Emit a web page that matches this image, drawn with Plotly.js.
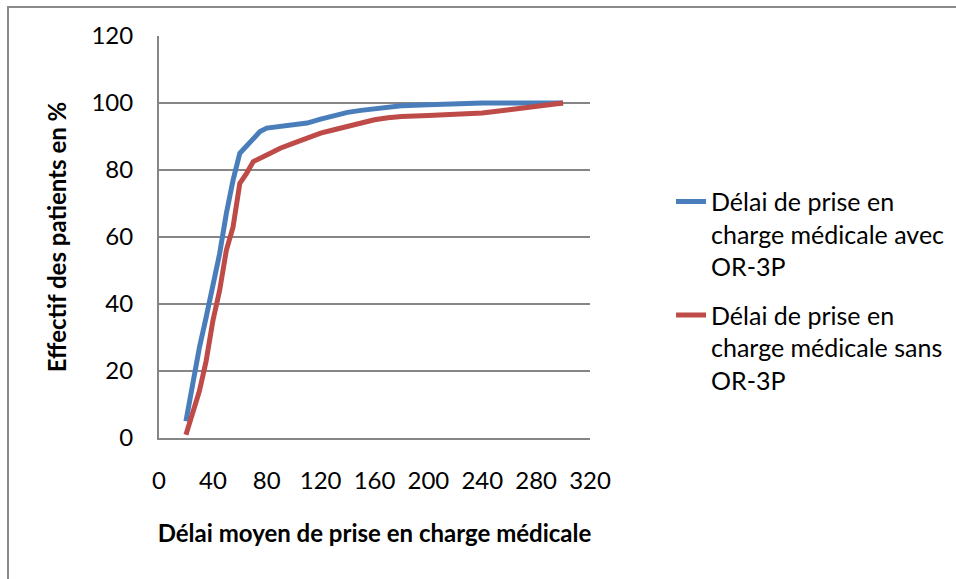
<!DOCTYPE html>
<html>
<head>
<meta charset="utf-8">
<script src="https://cdn.plot.ly/plotly-3.0.1.min.js"></script>
<style>
  html, body { margin: 0; padding: 0; background: #fff; }
  #wrap { position: relative; width: 956px; height: 579px; }
  #chart { width: 956px; height: 579px; }
  #frame {
    position: absolute; left: 7px; top: 6px; right: 0; bottom: 0;
    border-left: 2px solid #8a8a8a; border-top: 2px solid #8a8a8a;
    pointer-events: none;
  }
</style>
</head>
<body>
<div id="wrap">
  <div id="chart"></div>
  <div id="frame"></div>
</div>
<script>
// Délai (minutes) et effectif cumulé des patients (%)
const delaiAvec = [20, 25, 30, 35, 40, 45, 50, 55, 60, 65, 70, 75, 80, 90, 100, 110, 120, 130, 140, 150, 160, 170, 180, 200, 220, 240, 260, 280, 300];
const effectifAvec = [5, 17, 27, 36, 45, 55, 67, 77, 85, 87, 89.5, 91.5, 92.5, 93, 93.5, 94, 95.2, 96.3, 97.2, 97.8, 98.3, 98.8, 99.2, 99.5, 99.8, 100, 100, 100, 100];

const delaiSans = [20, 25, 30, 35, 40, 45, 50, 55, 60, 65, 70, 80, 90, 100, 110, 120, 130, 140, 150, 160, 170, 180, 200, 220, 240, 260, 280, 300];
const effectifSans = [1, 8, 14, 23, 35, 44, 56, 63, 76, 79, 82.5, 84.5, 86.5, 88, 89.5, 91, 92, 93, 94, 95, 95.6, 96, 96.3, 96.6, 97, 98, 99, 100];

const nomAvec = 'Délai de prise en<br>charge médicale avec<br>OR-3P';
const nomSans = 'Délai de prise en<br>charge médicale sans<br>OR-3P';

const xTicks = [0, 40, 80, 120, 160, 200, 240, 280, 320];
const yTicks = [0, 20, 40, 60, 80, 100, 120];

const FONT = 'Lato, "Open Sans", sans-serif';
const GRID = '#868686';

const traces = [
  { x: delaiAvec, y: effectifAvec, name: nomAvec, mode: 'lines', legendgroup: 'a',
    line: { color: '#4A7EBB', width: 5 } },
  { x: delaiSans, y: effectifSans, name: nomSans, mode: 'lines', legendgroup: 'b',
    line: { color: '#BE4B48', width: 5 } }
];

const layout = {
  width: 956, height: 579,
  margin: { l: 159, r: 366, t: 36, b: 141, autoexpand: false },
  paper_bgcolor: '#fff', plot_bgcolor: '#fff',
  font: { family: FONT, size: 24, color: '#000' },
  showlegend: true,
  legend: {
    x: 1.188, xanchor: 'left', y: 0.645, yanchor: 'top',
    font: { family: FONT, size: 25, color: '#000' },
    traceorder: 'grouped', tracegroupgap: 13,
    valign: 'top', itemwidth: 30
  },
  xaxis: {
    range: [0, 320], tickvals: xTicks, ticktext: xTicks.map(String),
    showgrid: false, zeroline: false,
    showline: true, linecolor: GRID, linewidth: 2,
    ticks: '', ticklabelstandoff: 20,
    tickfont: { family: FONT, size: 24 },
    title: { text: '<b>Délai moyen de prise en charge médicale</b>', standoff: 32,
             font: { family: FONT, size: 24 } }
  },
  yaxis: {
    range: [0, 120], tickvals: yTicks, ticktext: yTicks.map(String),
    showgrid: true, gridcolor: GRID, gridwidth: 1.5,
    zeroline: false, showline: true, linecolor: GRID, linewidth: 2,
    ticks: '', ticklabelstandoff: 19,
    tickfont: { family: FONT, size: 24 },
    title: { text: '<b>Effectif des patients en %</b>', standoff: 18,
             font: { family: FONT, size: 24 } }
  }
};

Plotly.newPlot('chart', traces, layout, { staticPlot: true, displayModeBar: false });
</script>
</body>
</html>
